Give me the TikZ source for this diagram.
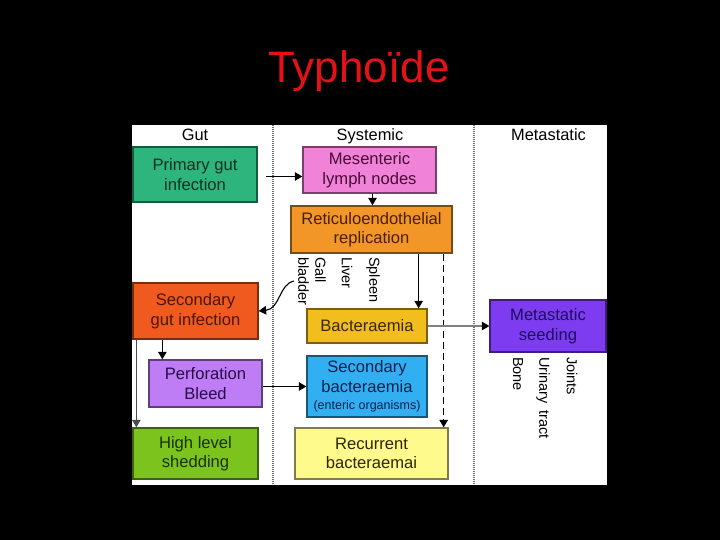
\documentclass[tikz,border=0pt]{standalone}
\usepackage{fontspec}
\setmainfont{Liberation Sans}
\usetikzlibrary{arrows.meta}
\definecolor{cPrim}{RGB}{46,180,125}\definecolor{tPrim}{RGB}{15,50,28}
\definecolor{cMes}{RGB}{240,130,216}\definecolor{tMes}{RGB}{70,12,55}
\definecolor{cRet}{RGB}{242,150,40}\definecolor{tRet}{RGB}{75,30,0}
\definecolor{cSec}{RGB}{240,90,30}\definecolor{tSec}{RGB}{75,22,5}
\definecolor{cPerf}{RGB}{190,125,245}\definecolor{tPerf}{RGB}{40,12,70}
\definecolor{cHigh}{RGB}{125,195,30}\definecolor{tHigh}{RGB}{22,50,0}
\definecolor{cBact}{RGB}{242,190,30}\definecolor{tBact}{RGB}{55,40,0}
\definecolor{cSecb}{RGB}{50,175,240}\definecolor{tSecb}{RGB}{8,32,80}
\definecolor{cRec}{RGB}{255,250,140}\definecolor{tRec}{RGB}{45,38,0}
\definecolor{cMeta}{RGB}{125,60,240}\definecolor{tMeta}{RGB}{25,15,95}
\definecolor{titlered}{RGB}{228,18,24}
\definecolor{divgray}{RGB}{110,110,110}
\begin{document}
\begin{tikzpicture}[x=1pt,y=-1pt,
  box/.style={draw, line width=1.3pt, inner sep=2pt, align=center, font=\fontsize{16.6}{19.5}\selectfont},
  hdr/.style={anchor=base, inner sep=0pt, font=\fontsize{16.4}{19}\selectfont},
  organ/.style={rotate=-90, anchor=west, inner sep=0pt, align=left, font=\fontsize{14.5}{17}\selectfont},
  arr/.style={line width=1.1pt, -{Triangle[length=7.5pt,width=8.5pt]}},
  divider/.style={draw=divgray, line width=2pt, dash pattern=on 1pt off 1pt}]
\useasboundingbox (0,0) rectangle (720,540);
\fill[black] (0,0) rectangle (720,540);
\node[anchor=base, text=titlered, font=\fontsize{44}{50}\selectfont] (title) at (359,83) {Typhoïde};
\fill[white] (132,125) rectangle (607,485);
\draw[divider] (273,125) -- (273,485);
\draw[divider] (474,125) -- (474,485);
% headers
\node[hdr] (hgut) at (195,140.5) {Gut};
\node[hdr] (hsys) at (370,140.5) {Systemic};
\node[hdr] (hmet) at (548.5,140.5) {Metastatic};
% boxes
\node[box, fill=cPrim, draw=cPrim!50!black, text=tPrim, minimum width=124pt, minimum height=55pt] (prim) at (195,174.5) {Primary gut\\infection};
\node[box, fill=cMes, draw=cMes!50!black, text=tMes, minimum width=133pt, minimum height=46pt] (mes) at (369.5,170) {Mesenteric\\lymph nodes};
\node[box, fill=cRet, draw=cRet!50!black, text=tRet, minimum width=161pt, minimum height=47pt] (ret) at (371.5,229.5) {Reticuloendothelial\\replication};
\node[box, fill=cSec, draw=cSec!50!black, text=tSec, minimum width=125pt, minimum height=56pt] (sec) at (195.5,311) {Secondary\\gut infection};
\node[box, fill=cPerf, draw=cPerf!50!black, text=tPerf, minimum width=113pt, minimum height=47pt] (perf) at (205.5,383.5) {Perforation\\Bleed};
\node[box, fill=cHigh, draw=cHigh!50!black, text=tHigh, minimum width=125pt, minimum height=51pt] (high) at (195.5,453.5) {High level\\shedding};
\node[box, fill=cBact, draw=cBact!50!black, text=tBact, minimum width=120pt, minimum height=34pt] (bact) at (367,326) {Bacteraemia};
\node[box, fill=cSecb, draw=cSecb!50!black, text=tSecb, minimum width=120pt, minimum height=61pt] (secb) at (367,386.5) {Secondary\\bacteraemia\\[-2.5pt]{\fontsize{12.5}{14}\selectfont (enteric organisms)}};
\node[box, fill=cRec, draw=cRec!50!black, text=tRec, minimum width=153pt, minimum height=51pt] (rec) at (371.5,453.5) {Recurrent\\bacteraemai};
\node[box, fill=cMeta, draw=cMeta!50!black, text=tMeta, minimum width=116pt, minimum height=52pt] (meta) at (548,326) {Metastatic\\seeding};
% organ labels
\node[organ] (gall) at (312,257) {Gall\\bladder};
\node[organ] (liver) at (347,257) {Liver};
\node[organ] (spleen) at (373,257) {Spleen};
\node[organ] (bone) at (518,357) {Bone};
\node[organ] (urin) at (543,357) {Urinary\ \,tract};
\node[organ] (joints) at (572,357) {Joints};
% connectors
\draw[arr] ([xshift=8pt,yshift=-2pt]prim.east) -- ([yshift=-2pt]prim.east -| mes.west);
\draw[arr] ([xshift=3pt]mes.south) -- ([xshift=3pt]mes.south |- ret.north);
\draw[arr] ([xshift=-9pt]ret.south -| bact.east) -- ([xshift=-9pt]bact.north east);
\draw[arr, dash pattern=on 7pt off 4pt] ([xshift=-5pt]ret.south -| rec.east) -- ([xshift=-5pt]rec.north east);
\draw[arr, draw=gray, -{Triangle[length=7.5pt,width=8.5pt,color=black]}] (bact.east) -- (meta.west);
\draw[arr] ([yshift=-3pt]perf.east) -- ([yshift=-3pt]perf.east -| secb.west);
\draw[arr] ([xshift=14pt]perf.north west |- sec.south) -- ([xshift=14pt]perf.north west);
\draw[arr, draw=black!70] ([xshift=4pt]sec.south west) -- ([xshift=4pt]high.north west);
\coordinate (gb) at (294,281);
\draw[arr] (gb) .. controls (279,284) and (280,309) .. (sec.east);
\end{tikzpicture}
\end{document}
